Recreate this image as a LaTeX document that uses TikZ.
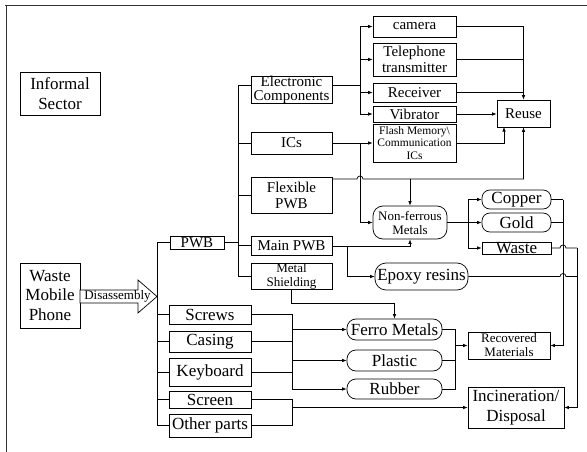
\documentclass[tikz,border=0pt]{standalone}
\usepackage{fontspec}
\setmainfont{Liberation Serif}
\usetikzlibrary{arrows.meta}
\newcommand\fsL{\fontsize{17}{19.5}\selectfont}
\newcommand\fsM{\fontsize{15}{16}\selectfont}
\newcommand\fsMt{\fontsize{15}{13.5}\selectfont}
\newcommand\fsS{\fontsize{13}{14}\selectfont}
\newcommand\fsT{\fontsize{11.5}{12.5}\selectfont}
\begin{document}
\begin{tikzpicture}[x=1pt,y=-1pt,
  bx/.style={draw, line width=0.7pt, inner sep=0pt, align=center, anchor=center},
  capsule/.style={bx, rounded corners=8pt},
  ln/.style={line width=0.7pt},
  arr/.style={ln, -{Latex[length=4.5pt,width=3.6pt]}},
]
\useasboundingbox (0,0) rectangle (587,452);
% frame
\draw[ln, black!80] (5,5) -- (587,5);
\draw[ln, black!80] (6,5) -- (6,452);
% nodes
\node[bx, minimum width=80pt, minimum height=43pt, font=\fsL] (inf) at (60,93.5) {Informal\\Sector};
\node[bx, minimum width=60pt, minimum height=65pt, font=\fsL] (wmp) at (50,295.5) {Waste\\Mobile\\Phone};
\node[bx, minimum width=54pt, minimum height=13pt, font=\fsM] (pwb) at (197,242.5) {PWB};
\node[bx, minimum width=81pt, minimum height=26pt, font=\fsMt] (elec) at (291.5,90) {Electronic\\Components};
\node[bx, minimum width=81pt, minimum height=22pt, font=\fsM] (ics) at (291.5,143) {ICs};
\node[bx, minimum width=81pt, minimum height=36pt, font=\fsM] (flex) at (291.5,195) {Flexible\\PWB};
\node[bx, minimum width=81pt, minimum height=19pt, font=\fsM] (mainpwb) at (291.5,245.5) {Main PWB};
\node[bx, minimum width=81pt, minimum height=26pt, font=\fsS] (metal) at (291.5,276) {Metal\\Shielding};
\node[bx, minimum width=83pt, minimum height=21pt, font=\fsM] (camera) at (414.5,26.5) {camera};
\node[bx, minimum width=83pt, minimum height=33pt, font=\fsM] (tel) at (414.5,59.5) {Telephone\\transmitter};
\node[bx, minimum width=83pt, minimum height=19pt, font=\fsM] (recv) at (414.5,92.5) {Receiver};
\node[bx, minimum width=83pt, minimum height=16pt, font=\fsM] (vib) at (414.5,114) {Vibrator};
\node[bx, minimum width=83pt, minimum height=38pt, font=\fsT] (flash) at (414.5,143) {Flash Memory\textbackslash\\Communication\\ICs};
\node[bx, minimum width=53pt, minimum height=27pt, font=\fsM] (reuse) at (523.5,113.5) {Reuse};
\node[bx, rounded corners=10pt, minimum width=74pt, minimum height=33pt, font=\fsS] (nonf) at (410,222.5) {Non-ferrous\\Metals};
\node[capsule, rounded corners=11pt, minimum width=93pt, minimum height=27pt, font=\fsL] (epoxy) at (421.5,276.5) {Epoxy resins};
\node[capsule, minimum width=69pt, minimum height=19pt, font=\fsL] (copper) at (516.5,199.5) {Copper};
\node[capsule, minimum width=69pt, minimum height=19pt, font=\fsL] (gold) at (516.5,222.5) {Gold};
\node[bx, minimum width=69pt, minimum height=12pt, font=\fsL] (waste) at (516.5,248) {Waste};
\node[bx, minimum width=82pt, minimum height=19pt, font=\fsL] (screws) at (210,314.5) {Screws};
\node[bx, minimum width=82pt, minimum height=21pt, font=\fsL] (casing) at (210,341.5) {Casing};
\node[bx, minimum width=82pt, minimum height=28pt, font=\fsL] (keyboard) at (210,372) {Keyboard};
\node[bx, minimum width=82pt, minimum height=17pt, font=\fsL] (screen) at (210,399.5) {Screen};
\node[bx, minimum width=82pt, minimum height=23pt, font=\fsL] (other) at (210,425.5) {Other parts};
\node[capsule, rounded corners=9pt, minimum width=95pt, minimum height=21pt, font=\fsL] (ferro) at (394.5,329.5) {Ferro Metals};
\node[capsule, rounded corners=9pt, minimum width=95pt, minimum height=21pt, font=\fsL] (plastic) at (394.5,360.5) {Plastic};
\node[capsule, rounded corners=9pt, minimum width=95pt, minimum height=20pt, font=\fsL] (rubber) at (394.5,389) {Rubber};
\node[bx, minimum width=82pt, minimum height=27pt, font=\fsS] (recovered) at (509,345.5) {Recovered\\Materials};
\node[bx, minimum width=96pt, minimum height=41pt, font=\fsL] (incin) at (516,407.5) {Incineration/\\Disposal};
% disassembly arrow
\draw[ln, fill=white] (80,290) -- (138,290) -- (138,280) -- (157,296.5) -- (138,313) -- (138,303) -- (80,303) -- cycle;
\node[font=\fsS, inner sep=0pt] (dis) at (117.5,296.5) {Disassembly};
% left tree
\coordinate (lT) at (157,242.5);
\coordinate (lB) at (157,425.5);
\draw[ln] (pwb.west) -- (lT) -- (lB) -- (other.west);
\draw[ln] (screws.west -| lT) -- (screws.west);
\draw[ln] (casing.west -| lT) -- (casing.west);
\draw[ln] (keyboard.west -| lT) -- (keyboard.west);
\draw[ln] (screen.west -| lT) -- (screen.west);
% PWB tree
\coordinate (rT) at (238,85);
\coordinate (rB) at (238,276);
\draw[ln] (elec.west |- rT) -- (rT) -- (rB) -- (metal.west);
\draw[ln] (pwb.east) -- (pwb.east -| rT);
\draw[ln] (ics.west -| rT) -- (ics.west);
\draw[ln] (flex.west -| rT) -- (flex.west);
\draw[ln] (mainpwb.west -| rT) -- (mainpwb.west);
% electronic components
\coordinate (tE) at (360,85);
\draw[ln] (elec.east |- tE) -- (tE);
\draw[arr] (tE) |- (camera.west);
\draw[arr] (tE) |- (tel.west);
\draw[arr] (tE) |- (recv.west);
\draw[arr] (tE) |- (vib.west);
\draw[arr] (camera.east) -| (reuse.north);
\draw[ln] (tel.east) -- (tel.east -| reuse.north);
\draw[ln] (recv.east) -- (recv.east -| reuse.north);
\draw[arr] (vib.east) -- (vib.east -| reuse.west);
\coordinate (rA) at (504,127);
\draw[arr] (flash.east) -| (rA);
% ICs
\draw[arr] (ics.east) -- (flash.west);
\coordinate (tI) at (360,143);
\draw[arr] (tI) |- (nonf.west);
% flexible PWB
\coordinate (fA) at (332,179);
\coordinate (fJ) at (410,179);
\coordinate (fR) at (523.5,179);
\draw[arr] (fA) -- (357,179) arc[start angle=180,end angle=0,radius=3pt] -- (fR) -- (reuse.south);
\draw[arr] (fJ) -- (nonf.north);
% main PWB
\coordinate (mA) at (332,246);
\coordinate (mJ) at (347,246);
\draw[arr] (mA) -| (nonf.south);
\draw[arr] (mJ) |- (epoxy.west);
% non-ferrous
\coordinate (nJ) at (468,222.5);
\draw[ln] (nonf.east) -- (nJ);
\draw[arr] (nJ) |- (copper.west);
\draw[arr] (nJ) -- (gold.west);
\draw[arr] (nJ) |- (waste.west);
% copper/gold to recovered
\coordinate (cJ) at (563,199.5);
\draw[ln] (copper.east) -- (cJ);
\draw[ln] (gold.east) -- (gold.east -| cJ);
\draw[arr] (cJ) |- (recovered.east);
% waste / epoxy to incineration
\coordinate (wJ) at (577,248);
\coordinate (eJ) at (577,276.5);
\draw[ln] (waste.east) -- (560,248) arc[start angle=180,end angle=0,radius=3pt] -- (wJ);
\draw[ln] (epoxy.east) -- (560,276.5) arc[start angle=180,end angle=0,radius=3pt] -- (eJ);
\draw[arr] (wJ) |- (incin.east);
% metal shielding to ferro
\coordinate (msA) at (291.5,303);
\draw[arr] (metal.south) -- (msA) -| (ferro.north);
% screws/casing/keyboard
\coordinate (sJ) at (292,314.5);
\coordinate (sK) at (292,389);
\draw[ln] (screws.east) -- (sJ) -- (sK);
\draw[ln] (casing.east) -- (casing.east -| sJ);
\draw[ln] (keyboard.east) -- (keyboard.east -| sJ);
\draw[arr] (ferro.west -| sJ) -- (ferro.west);
\draw[arr] (plastic.west -| sJ) -- (plastic.west);
\draw[arr] (sK) -- (rubber.west);
% to recovered
\coordinate (pJ) at (455,329.5);
\coordinate (pK) at (455,389);
\draw[ln] (ferro.east) -- (pJ) -- (pK) -- (rubber.east);
\draw[ln] (plastic.east) -- (plastic.east -| pJ);
\draw[arr] (recovered.west -| pJ) -- (recovered.west);
% screen/other to incineration
\coordinate (oJ) at (292,425.5);
\draw[ln] (screen.east) -| (oJ) -- (other.east);
\draw[arr] (incin.west -| oJ) -- (incin.west);
\end{tikzpicture}
\end{document}
